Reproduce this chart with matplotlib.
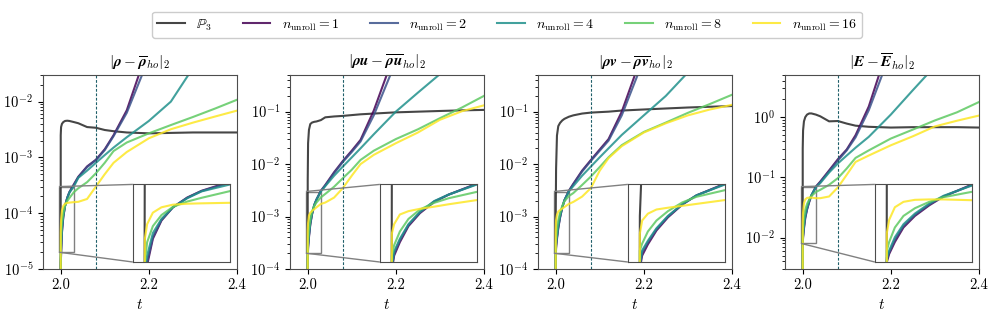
import numpy as np
import matplotlib
matplotlib.use("Agg")
import matplotlib.pyplot as plt
from mpl_toolkits.axes_grid1.inset_locator import mark_inset

plt.rcParams['font.family'] = 'serif'
plt.rcParams['font.serif'] = ['cmr10', 'DejaVu Serif']
plt.rcParams['mathtext.fontset'] = 'cm'
plt.rcParams['axes.formatter.use_mathtext'] = True
plt.rcParams['font.size'] = 10.5

# time samples shared by every curve
t = [2.0, 2.0002, 2.001, 2.003, 2.006, 2.01, 2.015, 2.02, 2.03, 2.04,
     2.06, 2.08, 2.1, 2.12, 2.15, 2.2, 2.25, 2.3, 2.35, 2.4]

labels = [r'$\mathbb{P}_3$', r'$n_\mathrm{unroll} = 1$', r'$n_\mathrm{unroll} = 2$',
          r'$n_\mathrm{unroll} = 4$', r'$n_\mathrm{unroll} = 8$', r'$n_\mathrm{unroll} = 16$']

titles = [r'$|\mathbfit{\rho} - \overline{\mathbfit{\rho}}_{ho}|_2$',
          r'$|\mathbfit{\rho u} - \overline{\mathbfit{\rho u}}_{ho}|_2$',
          r'$|\mathbfit{\rho v} - \overline{\mathbfit{\rho v}}_{ho}|_2$',
          r'$|\mathbfit{E} - \overline{\mathbfit{E}}_{ho}|_2$']

# --- rho
rho_p3 = [1e-7, 2.5e-3, 3.5e-3, 4.0e-3, 4.3e-3, 4.5e-3, 4.55e-3, 4.5e-3, 4.3e-3, 4.1e-3,
          3.5e-3, 3.4e-3, 3.1e-3, 2.95e-3, 2.8e-3, 2.7e-3, 2.75e-3, 2.8e-3, 2.8e-3, 2.8e-3]
rho_n1 = [1e-7, 1.2e-5, 1.8e-5, 4.5e-5, 8.5e-5, 1.35e-4, 1.9e-4, 2.4e-4, 3.3e-4, 4.5e-4,
          6.9e-4, 9.1e-4, 1.4e-3, 2.5e-3, 7e-3, 1e-1, 1.0, 10, 100, 1000]
rho_n2 = [1e-7, 1.3e-5, 2.0e-5, 4.8e-5, 8.7e-5, 1.35e-4, 1.88e-4, 2.38e-4, 3.2e-4, 4.4e-4,
          6.7e-4, 8.9e-4, 1.35e-3, 2.4e-3, 6.3e-3, 6e-2, 0.6, 6, 60, 600]
rho_n4 = [1e-7, 1.5e-5, 2.5e-5, 5.5e-5, 9e-5, 1.35e-4, 1.85e-4, 2.35e-4, 3.0e-4, 4.3e-4,
          5.8e-4, 8.0e-4, 1.1e-3, 1.5e-3, 2.3e-3, 4.5e-3, 1.0e-2, 4e-2, 0.15, 0.5]
rho_n8 = [1e-7, 2.0e-5, 4.0e-5, 7.0e-5, 1.03e-4, 1.37e-4, 1.65e-4, 1.88e-4, 2.38e-4, 2.8e-4,
          3.6e-4, 5.2e-4, 8.0e-4, 1.3e-3, 1.85e-3, 2.7e-3, 3.8e-3, 5.3e-3, 7.5e-3, 1.08e-2]
rho_n16 = [1e-7, 4.5e-5, 7.5e-5, 1.12e-4, 1.35e-4, 1.48e-4, 1.53e-4, 1.55e-4, 1.58e-4, 1.6e-4,
           1.8e-4, 3.0e-4, 5.0e-4, 8.0e-4, 1.25e-3, 2.2e-3, 3.2e-3, 4.2e-3, 5.4e-3, 6.9e-3]

# --- rho u
rhou_p3 = [1e-7, 5e-3, 2.5e-2, 4.5e-2, 5.8e-2, 6.2e-2, 6.4e-2, 6.5e-2, 6.9e-2, 7.8e-2,
           8.1e-2, 8.3e-2, 8.6e-2, 8.9e-2, 9.2e-2, 9.7e-2, 1.0e-1, 1.03e-1, 1.06e-1, 1.08e-1]
rhou_n1 = [1e-7, 1.5e-4, 2.5e-4, 4.0e-4, 7e-4, 1.1e-3, 1.63e-3, 2.1e-3, 3.1e-3, 4.0e-3,
           7e-3, 1.15e-2, 1.8e-2, 2.9e-2, 1.05e-1, 1.5, 20, 200, 2e3, 2e4]
rhou_n2 = [1e-7, 1.6e-4, 2.7e-4, 4.3e-4, 7.3e-4, 1.13e-3, 1.66e-3, 2.1e-3, 3.05e-3, 3.9e-3,
           6.7e-3, 1.1e-2, 1.7e-2, 2.7e-2, 8.5e-2, 0.9, 10, 100, 1e3, 1e4]
rhou_n4 = [1e-7, 1.8e-4, 2.9e-4, 4.5e-4, 7.5e-4, 1.15e-3, 1.68e-3, 2.1e-3, 3.0e-3, 3.8e-3,
           6.0e-3, 9e-3, 1.34e-2, 2.0e-2, 3.7e-2, 1.0e-1, 2.3e-1, 5.2e-1, 1.2, 2.5]
rhou_n8 = [1e-7, 2.5e-4, 3.6e-4, 5.8e-4, 9e-4, 1.25e-3, 1.58e-3, 1.85e-3, 2.32e-3, 2.7e-3,
           3.7e-3, 5.4e-3, 7.8e-3, 1.2e-2, 1.8e-2, 3.0e-2, 4.6e-2, 7.5e-2, 1.2e-1, 2.0e-1]
rhou_n16 = [1e-7, 5.4e-4, 7.5e-4, 1.05e-3, 1.18e-3, 1.28e-3, 1.38e-3, 1.5e-3, 1.74e-3, 1.85e-3,
            2.3e-3, 3.5e-3, 6.0e-3, 1.0e-2, 1.5e-2, 2.5e-2, 4.0e-2, 7.0e-2, 1.02e-1, 1.32e-1]

# --- rho v
rhov_p3 = [1e-7, 1e-3, 8e-3, 3.5e-2, 5.3e-2, 6.1e-2, 6.8e-2, 7.3e-2, 8.0e-2, 8.5e-2,
           9.2e-2, 9.6e-2, 9.8e-2, 1.0e-1, 1.05e-1, 1.1e-1, 1.15e-1, 1.2e-1, 1.24e-1, 1.28e-1]
rhov_n1 = [1e-7, 1.6e-4, 2.5e-4, 3.7e-4, 6e-4, 9.5e-4, 1.48e-3, 2.05e-3, 3.1e-3, 4.2e-3,
           7.5e-3, 1.2e-2, 1.9e-2, 3.0e-2, 1.0e-1, 1.5, 20, 200, 2e3, 2e4]
rhov_n2 = [1e-7, 1.7e-4, 2.8e-4, 4.0e-4, 6.3e-4, 9.8e-4, 1.5e-3, 2.05e-3, 3.05e-3, 4.1e-3,
           7.2e-3, 1.15e-2, 1.8e-2, 2.8e-2, 8.5e-2, 1.0, 12, 120, 1.2e3, 1.2e4]
rhov_n4 = [1e-7, 1.9e-4, 3e-4, 4.2e-4, 6.5e-4, 1.0e-3, 1.5e-3, 2.05e-3, 3.0e-3, 3.8e-3,
           6e-3, 9e-3, 1.35e-2, 2e-2, 3.6e-2, 8.5e-2, 2.0e-1, 5.6e-1, 1.3, 3.0]
rhov_n8 = [1e-7, 3e-4, 3.8e-4, 5.8e-4, 8.5e-4, 1.18e-3, 1.6e-3, 1.95e-3, 2.46e-3, 2.8e-3,
           4.0e-3, 5.8e-3, 8.8e-3, 1.35e-2, 2.3e-2, 4.1e-2, 6.2e-2, 9.5e-2, 1.4e-1, 2.1e-1]
rhov_n16 = [1e-7, 5.4e-4, 8.5e-4, 1.08e-3, 1.25e-3, 1.33e-3, 1.42e-3, 1.52e-3, 1.74e-3, 1.9e-3,
            2.4e-3, 3.5e-3, 7.5e-3, 1.3e-2, 2.2e-2, 4.0e-2, 6.0e-2, 8.5e-2, 1.1e-1, 1.35e-1]

# --- E
E_p3 = [1e-7, 0.3, 0.6, 0.85, 1.0, 1.1, 1.15, 1.15, 1.1, 1.03,
        0.85, 0.86, 0.78, 0.72, 0.69, 0.67, 0.68, 0.68, 0.68, 0.67]
E_n1 = [1e-7, 8e-3, 1.0e-2, 1.4e-2, 2.1e-2, 2.9e-2, 3.9e-2, 5.0e-2, 7.0e-2, 8.5e-2,
        0.13, 0.2, 0.29, 0.5, 1.5, 20, 200, 2e3, 2e4, 2e5]
E_n2 = [1e-7, 8.5e-3, 1.05e-2, 1.5e-2, 2.2e-2, 3.0e-2, 4.0e-2, 5.0e-2, 6.9e-2, 8.3e-2,
        0.125, 0.19, 0.28, 0.46, 1.3, 12, 120, 1.2e3, 1.2e4, 1.2e5]
E_n4 = [1e-7, 9e-3, 1.1e-2, 1.6e-2, 2.3e-2, 3.1e-2, 4.1e-2, 5.1e-2, 6.8e-2, 8e-2,
        0.12, 0.17, 0.23, 0.31, 0.47, 1.1, 2.8, 7, 18, 45]
E_n8 = [1e-7, 1.1e-2, 1.4e-2, 2.1e-2, 2.9e-2, 3.6e-2, 4.3e-2, 4.9e-2, 5.7e-2, 6.2e-2,
        7.5e-2, 9.7e-2, 0.14, 0.21, 0.28, 0.44, 0.62, 0.88, 1.2, 1.78]
E_n16 = [1e-7, 1.8e-2, 2.6e-2, 3.7e-2, 4.3e-2, 4.55e-2, 4.6e-2, 4.6e-2, 4.5e-2, 4.5e-2,
         4.8e-2, 6.8e-2, 0.11, 0.18, 0.23, 0.34, 0.48, 0.7, 0.87, 1.06]

panels = [
    [rho_p3, rho_n1, rho_n2, rho_n4, rho_n8, rho_n16],
    [rhou_p3, rhou_n1, rhou_n2, rhou_n4, rhou_n8, rhou_n16],
    [rhov_p3, rhov_n1, rhov_n2, rhov_n4, rhov_n8, rhov_n16],
    [E_p3, E_n1, E_n2, E_n4, E_n8, E_n16],
]
ylims = [(1e-5, 3e-2), (1e-4, 0.5), (1e-4, 0.5), (3e-3, 5)]
zoom_ylims = [(2e-5, 3e-4), (2e-4, 3e-3), (2e-4, 3e-3), (8e-3, 7e-2)]
lefts = [43, 290, 538, 785]

colors = ['0.15'] + [plt.cm.viridis(v) for v in np.linspace(0, 1, 5)]

W, H = 996, 316
fig = plt.figure(figsize=(W / 100, H / 100), dpi=100)

for k in range(4):
    ax = fig.add_axes([lefts[k] / W, 47 / H, 194 / W, 194 / H])
    axins = ax.inset_axes([0.463, 0.036, 0.502, 0.40])
    for series, c in zip(panels[k], colors):
        ax.plot(t, series, color=c, lw=1.5, alpha=0.85)
        axins.plot(t, series, color=c, lw=1.5, alpha=0.85)
    ax.axvline(2.08, color='#1f5f6a', ls=(0, (2.5, 1.5)), lw=0.8)
    ax.set_yscale('log')
    ax.set_xlim(1.96, 2.4)
    ax.set_ylim(*ylims[k])
    ax.set_xticks([2.0, 2.2, 2.4])
    ax.set_xticklabels(['2.0', '2.2', '2.4'])
    ax.set_xlabel(r'$t$', fontsize=11)
    ax.set_title(titles[k], fontsize=11)
    for s in ax.spines.values():
        s.set_color('0.3')

    axins.set_yscale('log')
    axins.set_xlim(1.996, 2.03)
    axins.set_ylim(*zoom_ylims[k])
    axins.set_xticks([])
    axins.set_yticks([])
    axins.minorticks_off()
    for s in axins.spines.values():
        s.set_color('0.3')
    mark_inset(ax, axins, loc1=2, loc2=3, fc='none', ec='0.5', lw=1)

handles = fig.axes[0].get_lines()[:6]
fig.legend(handles, labels, loc='upper center', bbox_to_anchor=(0.509, 0.985),
           ncol=6, fontsize=10, handlelength=2.0, columnspacing=2.2,
           framealpha=1, edgecolor='0.8')

fig.savefig('out.png', dpi=100)
